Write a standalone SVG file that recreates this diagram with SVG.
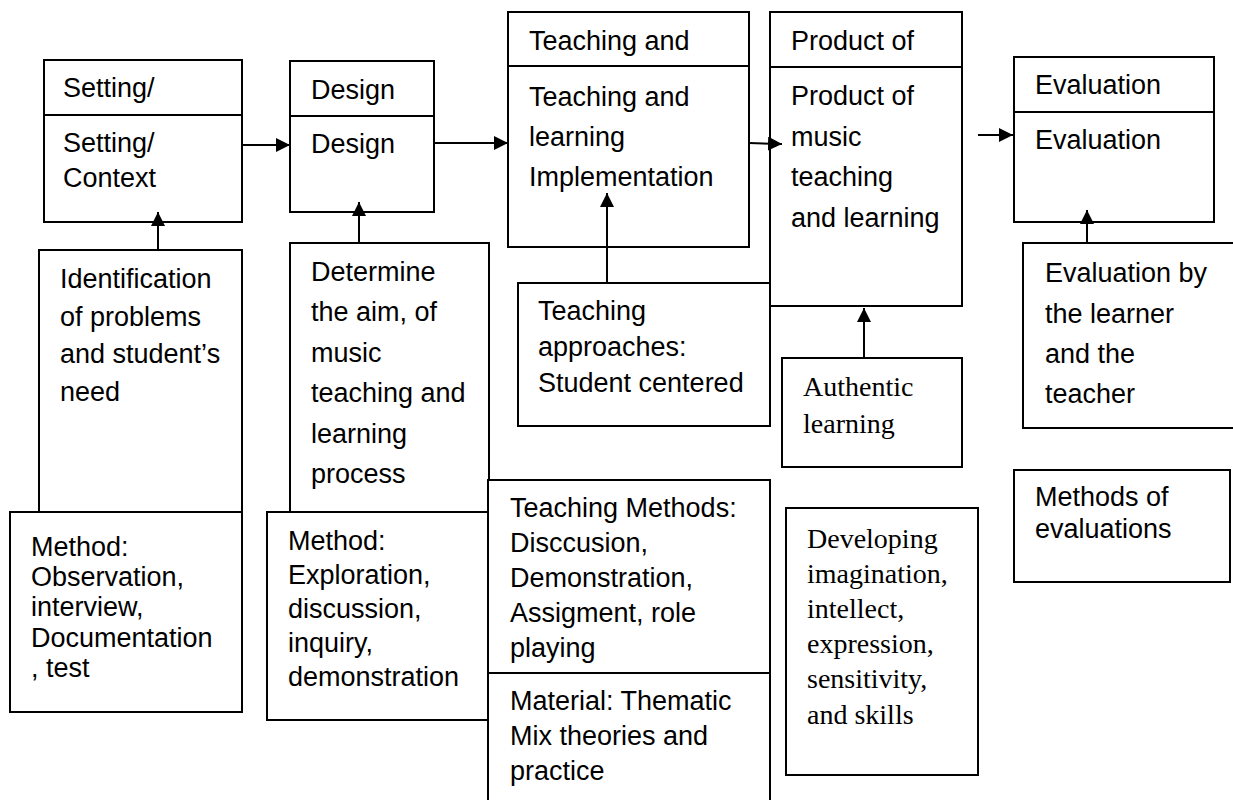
<svg xmlns="http://www.w3.org/2000/svg" width="1233" height="800" viewBox="0 0 1233 800">
<style>
.b{fill:#fff;stroke:#000;stroke-width:2}
.d{stroke:#000;stroke-width:2}
.t{font-family:"Liberation Sans",Arial,sans-serif;font-size:27px;fill:#000}
.s{font-family:"Liberation Serif","Times New Roman",serif;font-size:28px;fill:#000}
.c{stroke:#000;stroke-width:2;fill:none;marker-end:url(#ah)}
</style>
<defs>
<marker id="ah" markerUnits="userSpaceOnUse" markerWidth="15" markerHeight="15" refX="14" refY="7" orient="auto">
<path d="M0,0 L14,7 L0,14 z" fill="#000"/>
</marker>
</defs>
<rect width="1233" height="800" fill="#fff"/>

<g id="setting">
<rect class="b" x="44" y="60" width="198" height="162"/>
<line class="d" x1="44" y1="115" x2="242" y2="115"/>
<text class="t" x="63" y="97">Setting/</text>
<text class="t" x="63" y="152">Setting/</text>
<text class="t" x="63" y="187">Context</text>
</g>

<g id="design">
<rect class="b" x="290" y="61" width="144" height="151"/>
<line class="d" x1="290" y1="116" x2="434" y2="116"/>
<text class="t" x="311" y="99">Design</text>
<text class="t" x="311" y="153">Design</text>
</g>

<g id="teaching">
<rect class="b" x="508" y="12" width="241" height="235"/>
<line class="d" x1="508" y1="66" x2="749" y2="66"/>
<text class="t" x="529" y="50">Teaching and</text>
<text class="t" x="529" y="106">Teaching and</text>
<text class="t" x="529" y="146">learning</text>
<text class="t" x="529" y="186">Implementation</text>
</g>

<g id="product">
<rect class="b" x="770" y="12" width="192" height="294"/>
<line class="d" x1="770" y1="67" x2="962" y2="67"/>
<text class="t" x="791" y="50">Product of</text>
<text class="t" x="791" y="105">Product of</text>
<text class="t" x="791" y="146">music</text>
<text class="t" x="791" y="186">teaching</text>
<text class="t" x="791" y="227">and learning</text>
</g>

<g id="evaluation">
<rect class="b" x="1014" y="57" width="200" height="165"/>
<line class="d" x1="1014" y1="112" x2="1214" y2="112"/>
<text class="t" x="1035" y="94">Evaluation</text>
<text class="t" x="1035" y="149">Evaluation</text>
</g>

<g id="identification">
<rect class="b" x="39" y="250" width="203" height="262"/>
<text class="t" x="60" y="288">Identification</text>
<text class="t" x="60" y="326">of problems</text>
<text class="t" x="60" y="363">and student’s</text>
<text class="t" x="60" y="401">need</text>
</g>

<g id="method-left">
<rect class="b" x="10" y="512" width="232" height="200"/>
<text class="t" x="31" y="556">Method:</text>
<text class="t" x="31" y="586">Observation,</text>
<text class="t" x="31" y="616">interview,</text>
<text class="t" x="31" y="647">Documentation</text>
<text class="t" x="31" y="677">, test</text>
</g>

<g id="determine">
<rect class="b" x="290" y="243" width="199" height="269"/>
<text class="t" x="311" y="281">Determine</text>
<text class="t" x="311" y="321">the aim, of</text>
<text class="t" x="311" y="362">music</text>
<text class="t" x="311" y="402">teaching and</text>
<text class="t" x="311" y="443">learning</text>
<text class="t" x="311" y="483">process</text>
</g>

<g id="method-design">
<rect class="b" x="267" y="512" width="222" height="208"/>
<text class="t" x="288" y="550">Method:</text>
<text class="t" x="288" y="584">Exploration,</text>
<text class="t" x="288" y="618">discussion,</text>
<text class="t" x="288" y="652">inquiry,</text>
<text class="t" x="288" y="686">demonstration</text>
</g>

<g id="approaches">
<rect class="b" x="518" y="283" width="252" height="143"/>
<text class="t" x="538" y="320">Teaching</text>
<text class="t" x="538" y="356">approaches:</text>
<text class="t" x="538" y="392">Student centered</text>
</g>

<g id="teaching-methods">
<rect class="b" x="488" y="480" width="282" height="330"/>
<line class="d" x1="488" y1="673" x2="770" y2="673"/>
<text class="t" x="510" y="517">Teaching Methods:</text>
<text class="t" x="510" y="552">Disccusion,</text>
<text class="t" x="510" y="587">Demonstration,</text>
<text class="t" x="510" y="622">Assigment, role</text>
<text class="t" x="510" y="657">playing</text>
<text class="t" x="510" y="710">Material: Thematic</text>
<text class="t" x="510" y="745">Mix theories and</text>
<text class="t" x="510" y="780">practice</text>
</g>

<g id="authentic">
<rect class="b" x="782" y="358" width="180" height="109"/>
<text class="s" x="803" y="396">Authentic</text>
<text class="s" x="803" y="433">learning</text>
</g>

<g id="developing">
<rect class="b" x="786" y="508" width="192" height="267"/>
<text class="s" x="807" y="548">Developing</text>
<text class="s" x="807" y="583">imagination,</text>
<text class="s" x="807" y="618">intellect,</text>
<text class="s" x="807" y="653">expression,</text>
<text class="s" x="807" y="688">sensitivity,</text>
<text class="s" x="807" y="724">and skills</text>
</g>

<g id="evaluation-by">
<rect class="b" x="1023" y="243" width="230" height="185"/>
<text class="t" x="1045" y="282">Evaluation by</text>
<text class="t" x="1045" y="323">the learner</text>
<text class="t" x="1045" y="363">and the</text>
<text class="t" x="1045" y="403">teacher</text>
</g>

<g id="methods-eval">
<rect class="b" x="1014" y="470" width="216" height="112"/>
<text class="t" x="1035" y="506">Methods of</text>
<text class="t" x="1035" y="538">evaluations</text>
</g>

<g id="connectors">
<line class="c" x1="242" y1="145" x2="290" y2="145"/>
<line class="c" x1="434" y1="143" x2="508" y2="143"/>
<line class="c" x1="749" y1="143" x2="782" y2="144"/>
<line class="c" x1="978" y1="135" x2="1013" y2="135"/>
<line class="c" x1="158" y1="250" x2="158" y2="212"/>
<line class="c" x1="359" y1="243" x2="359" y2="202"/>
<line class="c" x1="607" y1="283" x2="607" y2="193"/>
<line class="c" x1="864" y1="358" x2="864" y2="308"/>
<line class="c" x1="1087" y1="243" x2="1087" y2="210"/>
</g>
</svg>
